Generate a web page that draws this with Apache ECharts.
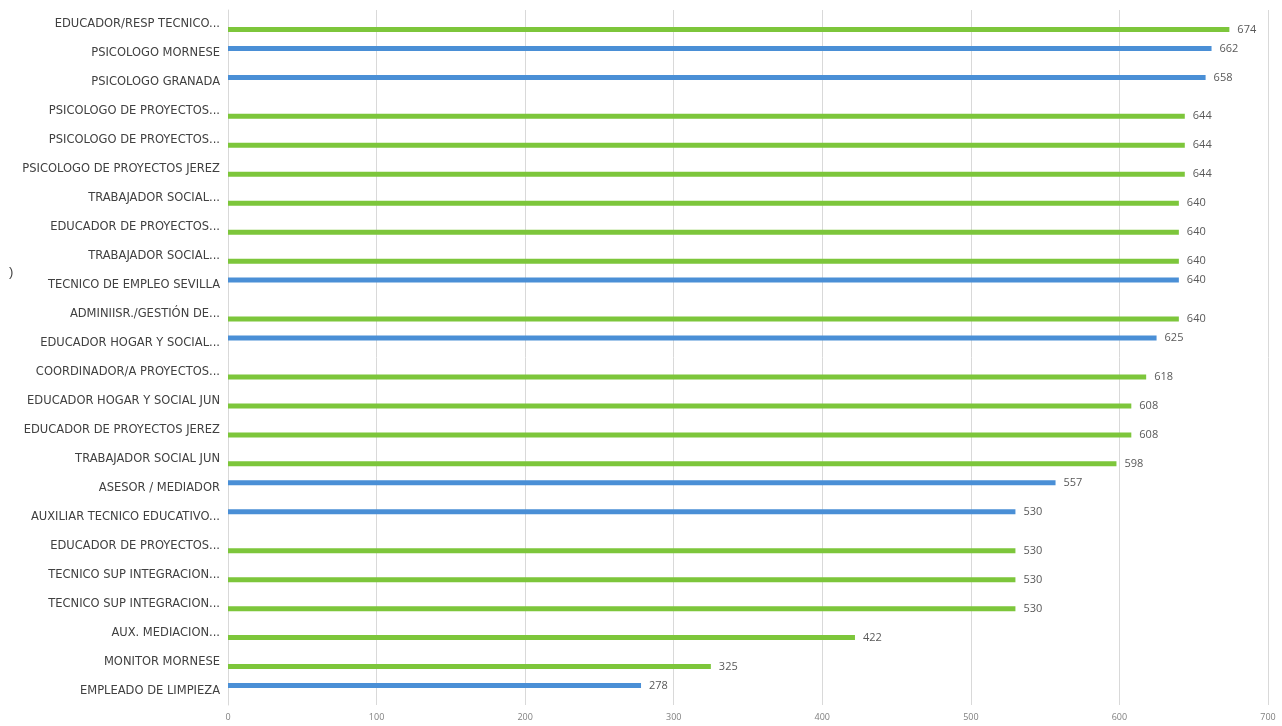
<!DOCTYPE html>
<html>
<head>
<meta charset="utf-8">
<script src="https://cdn.jsdelivr.net/npm/echarts@6/dist/echarts.min.js"></script>
<style>html,body{margin:0;padding:0;background:#fff}#c{width:1282px;height:726px}</style>
</head>
<body>
<div id="c"></div>
<script>
const categories = [
  "EDUCADOR/RESP TECNICO...",
  "PSICOLOGO MORNESE",
  "PSICOLOGO GRANADA",
  "PSICOLOGO DE PROYECTOS...",
  "PSICOLOGO DE PROYECTOS...",
  "PSICOLOGO DE PROYECTOS JEREZ",
  "TRABAJADOR SOCIAL...",
  "EDUCADOR DE PROYECTOS...",
  "TRABAJADOR SOCIAL...",
  "TECNICO DE EMPLEO SEVILLA",
  "ADMINIISR./GESTIÓN DE...",
  "EDUCADOR HOGAR Y SOCIAL...",
  "COORDINADOR/A PROYECTOS...",
  "EDUCADOR HOGAR Y SOCIAL JUN",
  "EDUCADOR DE PROYECTOS JEREZ",
  "TRABAJADOR SOCIAL JUN",
  "ASESOR / MEDIADOR",
  "AUXILIAR TECNICO EDUCATIVO...",
  "EDUCADOR DE PROYECTOS...",
  "TECNICO SUP INTEGRACION...",
  "TECNICO SUP INTEGRACION...",
  "AUX. MEDIACION...",
  "MONITOR MORNESE",
  "EMPLEADO DE LIMPIEZA"
];
const blueValues = [null,662,658,null,null,null,null,null,null,640,null,625,null,null,null,null,557,530,null,null,null,null,null,278];
const greenValues = [674,null,null,644,644,644,640,640,640,null,640,null,618,608,608,598,null,null,530,530,530,422,325,null];
const xTicks = { min: 0, max: 700, interval: 100 };

const chart = echarts.init(document.getElementById('c'));
const labelStyle = { show: true, position: 'right', distance: 8, color: '#595959', fontSize: 11, fontFamily: 'Open Sans' };
chart.setOption({
  animation: false,
  grid: { left: 228, right: 14, top: 10, bottom: 21 },
  xAxis: {
    type: 'value', min: xTicks.min, max: xTicks.max, interval: xTicks.interval,
    axisLine: { show: false }, axisTick: { show: false },
    axisLabel: { color: '#7f7f7f', fontSize: 9, margin: 8, fontFamily: 'Open Sans' },
    splitLine: { lineStyle: { color: '#d9d9d9', width: 1 } }
  },
  yAxis: {
    type: 'category', data: categories, inverse: true,
    axisLine: { show: true, lineStyle: { color: '#d9d9d9' } },
    axisTick: { show: false },
    axisLabel: { color: '#404040', fontSize: 11.5, margin: 8, fontFamily: 'DejaVu Sans' }
  },
  series: [
    { type: 'bar', data: blueValues, barWidth: 5, barGap: '100%', itemStyle: { color: '#4a8fd6' }, label: labelStyle },
    { type: 'bar', data: greenValues, barWidth: 5, barGap: '100%', itemStyle: { color: '#7dc63b' }, label: labelStyle }
  ],
  graphic: [{ type: 'text', left: 9, top: 266, style: { text: ')', fontSize: 13, fill: '#404040' } }]
});
</script>
</body>
</html>
